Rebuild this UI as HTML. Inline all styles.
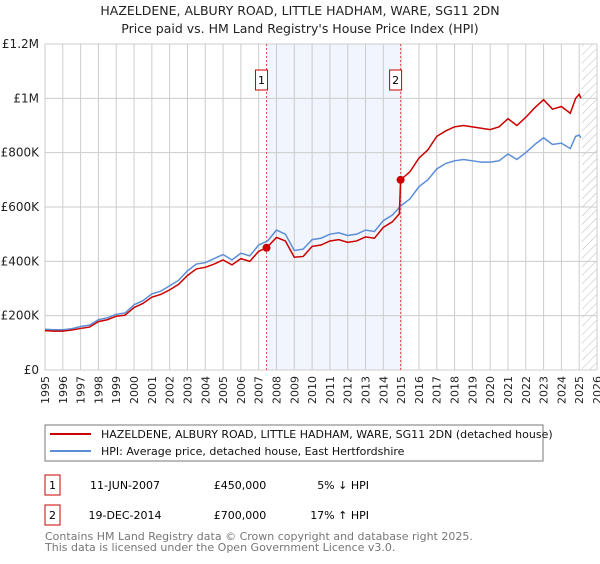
<!DOCTYPE html>
<html><head><meta charset="utf-8">
<style>
body{margin:0;background:#fff;font-family:"DejaVu Sans","Liberation Sans",sans-serif;}
svg text{font-family:"DejaVu Sans","Liberation Sans",sans-serif;}
</style></head>
<body>
<svg id="c" width="600" height="560" xmlns="http://www.w3.org/2000/svg">
<defs><pattern id="hatch" width="6" height="6" patternUnits="userSpaceOnUse" patternTransform="rotate(45)"><line x1="0" y1="0" x2="0" y2="6" stroke="#bbb" stroke-width="1"/></pattern></defs>
<text x="300" y="15" text-anchor="middle" font-size="12.5" fill="#222">HAZELDENE, ALBURY ROAD, LITTLE HADHAM, WARE, SG11 2DN</text>
<text x="300" y="33" text-anchor="middle" font-size="12.5" fill="#222">Price paid vs. HM Land Registry's House Price Index (HPI)</text>
<g id="plot"></g>
<rect x="45" y="425" width="498" height="36" fill="#fff" stroke="#777"/>
<line x1="50" y1="434" x2="91" y2="434" stroke="#cc0000" stroke-width="2"/>
<text x="101" y="438" font-size="11" fill="#111">HAZELDENE, ALBURY ROAD, LITTLE HADHAM, WARE, SG11 2DN (detached house)</text>
<line x1="50" y1="451" x2="91" y2="451" stroke="#5b8ed6" stroke-width="2"/>
<text x="101" y="455" font-size="11" fill="#111">HPI: Average price, detached house, East Hertfordshire</text>
<rect x="45" y="475" width="15" height="20" fill="#fff" stroke="#cc0000"/>
<text x="52.5" y="489" text-anchor="middle" font-size="11">1</text>
<text x="125" y="489" text-anchor="middle" font-size="11">11-JUN-2007</text>
<text x="240" y="489" text-anchor="middle" font-size="11">£450,000</text>
<text x="369" y="489" text-anchor="end" font-size="11">5% ↓ HPI</text>
<rect x="45" y="505" width="15" height="20" fill="#fff" stroke="#cc0000"/>
<text x="52.5" y="519" text-anchor="middle" font-size="11">2</text>
<text x="125" y="519" text-anchor="middle" font-size="11">19-DEC-2014</text>
<text x="240" y="519" text-anchor="middle" font-size="11">£700,000</text>
<text x="369" y="519" text-anchor="end" font-size="11">17% ↑ HPI</text>
<text x="45" y="540" font-size="11" fill="#777">Contains HM Land Registry data © Crown copyright and database right 2025.</text>
<text x="45" y="551" font-size="11" fill="#777">This data is licensed under the Open Government Licence v3.0.</text>
</svg>
<script>
const hpiYears=[1995,1995.5,1996,1996.5,1997,1997.5,1998,1998.5,1999,1999.5,2000,2000.5,2001,2001.5,2002,2002.5,2003,2003.5,2004,2004.5,2005,2005.5,2006,2006.5,2007,2007.5,2008,2008.5,2009,2009.5,2010,2010.5,2011,2011.5,2012,2012.5,2013,2013.5,2014,2014.5,2015,2015.5,2016,2016.5,2017,2017.5,2018,2018.5,2019,2019.5,2020,2020.5,2021,2021.5,2022,2022.5,2023,2023.5,2024,2024.5,2024.8,2025,2025.1];
const hpiValues=[150,148,148,152,160,165,185,192,205,210,240,255,280,290,310,330,365,390,395,410,425,405,430,420,460,475,515,500,440,445,480,485,500,505,495,500,515,510,550,570,605,630,675,700,740,760,770,775,770,765,765,770,795,775,800,830,855,830,835,815,860,865,855];
const priceYears=[1995,1995.5,1996,1996.5,1997,1997.5,1998,1998.5,1999,1999.5,2000,2000.5,2001,2001.5,2002,2002.5,2003,2003.5,2004,2004.5,2005,2005.5,2006,2006.5,2007,2007.45,2008,2008.5,2009,2009.5,2010,2010.5,2011,2011.5,2012,2012.5,2013,2013.5,2014,2014.5,2014.9,2014.97,2015.5,2016,2016.5,2017,2017.5,2018,2018.5,2019,2019.5,2020,2020.5,2021,2021.5,2022,2022.5,2023,2023.5,2024,2024.5,2024.8,2025,2025.1];
const priceValues=[145,143,143,147,153,158,178,185,198,202,230,245,268,278,295,315,348,372,378,390,405,387,410,400,437,450,488,475,415,418,455,460,475,480,470,475,490,485,525,545,575,700,730,780,810,860,880,895,900,895,890,885,895,925,900,930,965,995,960,970,945,1000,1015,1000];
const saleYears=[2007.44,2014.97];
const saleValues=[450,700];
const saleLabels=["1","2"];
const yTicks=[0,200,400,600,800,1000,1200];
const yTickLabels=["£0","£200K","£400K","£600K","£800K","£1M","£1.2M"];
const xTicks=[1995,1996,1997,1998,1999,2000,2001,2002,2003,2004,2005,2006,2007,2008,2009,2010,2011,2012,2013,2014,2015,2016,2017,2018,2019,2020,2021,2022,2023,2024,2025,2026];

const X0=45,X1=597,Y0=370,Y1=44;
const xs=v=>X0+(v-1995)/(2026-1995)*(X1-X0);
const ys=v=>Y0-v/1200*(Y0-Y1);
const NS="http://www.w3.org/2000/svg";
const g=document.getElementById('plot');
function mk(t,a){const e=document.createElementNS(NS,t);for(const k in a)e.setAttribute(k,a[k]);g.appendChild(e);return e;}

let e=mk('rect',{x:xs(saleYears[0]),y:Y1,width:xs(saleYears[1])-xs(saleYears[0]),height:Y0-Y1,fill:'#eef3fc',opacity:0.8});


e=mk('rect',{x:xs(2025.15),y:Y1,width:X1-xs(2025.15),height:Y0-Y1,fill:'url(#hatch)'});


xTicks.forEach(t=>{
  let l=mk('line',{x1:xs(t),x2:xs(t),y1:Y1,y2:Y0,stroke:'#ccc','stroke-width':1});
  
  
  let tx=mk('text',{x:0,y:0,'font-size':11,fill:'#222','text-anchor':'end',transform:`translate(${xs(t)+4},${Y0+6}) rotate(-90)`});
  tx.textContent=t;
  
  
});
yTicks.forEach((t,i)=>{
  let l=mk('line',{x1:X0,x2:X1,y1:ys(t),y2:ys(t),stroke:'#ccc','stroke-width':1});
  
  
  let tx=mk('text',{x:X0-6,y:ys(t)+4,'font-size':12,fill:'#222','text-anchor':'end'});
  tx.textContent=yTickLabels[i];
  
  
});
saleYears.forEach((s,i)=>{
  let l=mk('line',{x1:xs(s),x2:xs(s),y1:Y1,y2:Y0,stroke:'#e05050','stroke-width':1,'stroke-dasharray':'2,2'});
  
  
  let r=mk('rect',{x:xs(s)-11,y:70,width:12,height:20,fill:'#fff',stroke:'#cc0000'});
  
  
  let tx=mk('text',{x:xs(s)-5,y:84,'font-size':11,'text-anchor':'middle'});
  tx.textContent=saleLabels[i];
  
  
});
let p=mk('polyline',{points:hpiYears.map((y,i)=>xs(y)+','+ys(hpiValues[i])).join(' '),fill:'none',stroke:'#5b8ed6','stroke-width':1.5});


p=mk('polyline',{points:priceYears.map((y,i)=>xs(y)+','+ys(priceValues[i])).join(' '),fill:'none',stroke:'#cc0000','stroke-width':1.5});


saleYears.forEach((s,i)=>{
  let c=mk('circle',{cx:xs(s),cy:ys(saleValues[i]),r:4,fill:'#cc0000'});
  
  
});
</script>
</body></html>
